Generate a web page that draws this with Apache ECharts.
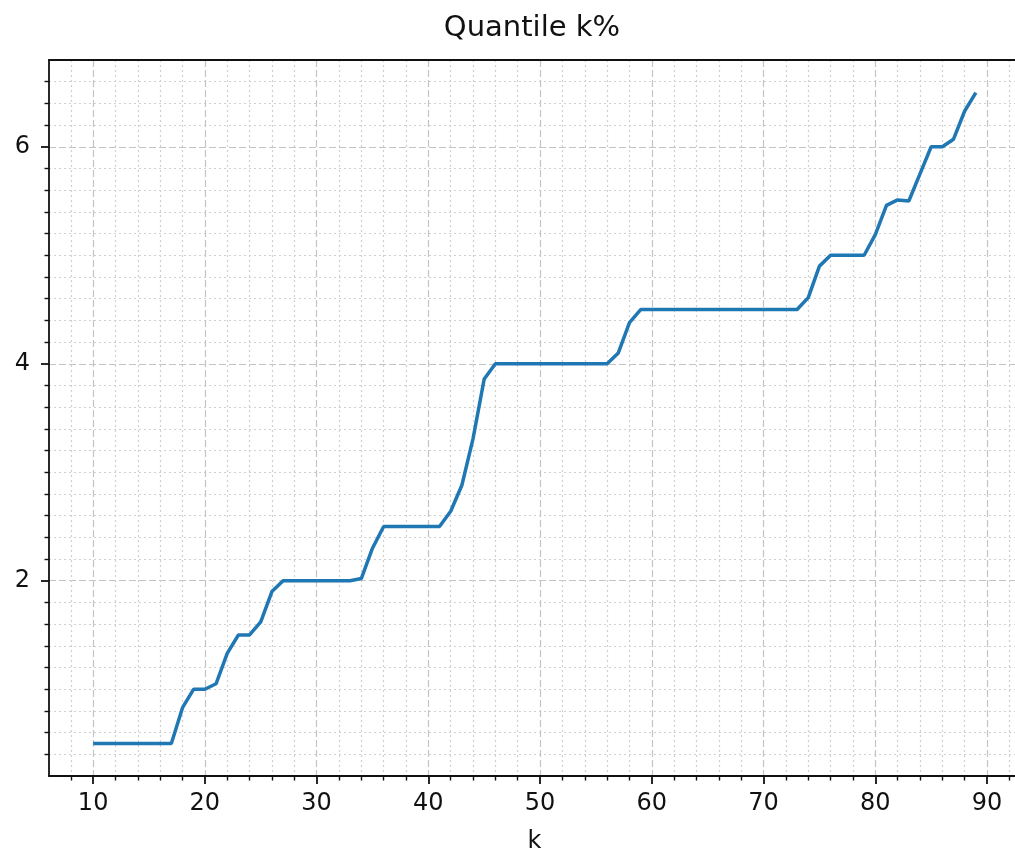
<!DOCTYPE html>
<html>
<head>
<meta charset="utf-8">
<script src="https://cdn.jsdelivr.net/npm/echarts@6/dist/echarts.min.js"></script>
<style>
  html, body { margin: 0; padding: 0; background: #fff; overflow: hidden; width: 1015px; height: 859px; }
  #main { width: 1100px; height: 859px; }
</style>
</head>
<body>
<div id="main"></div>
<script>
// k (percent) and the quantile
let kValues = [10, 11, 12, 13, 14, 15, 16, 17, 18, 19, 20, 21, 22, 23, 24, 25, 26, 27, 28, 29,
    30, 31, 32, 33, 34, 35, 36, 37, 38, 39, 40, 41, 42, 43, 44, 45, 46, 47, 48, 49,
    50, 51, 52, 53, 54, 55, 56, 57, 58, 59, 60, 61, 62, 63, 64, 65, 66, 67, 68, 69,
    70, 71, 72, 73, 74, 75, 76, 77, 78, 79, 80, 81, 82, 83, 84, 85, 86, 87, 88, 89]
let quantiles = [0.5, 0.5, 0.5, 0.5, 0.5, 0.5, 0.5, 0.5, 0.83, 1.0, 1.0, 1.05, 1.33, 1.5, 1.5, 1.62, 1.9, 2.0, 2.0, 2.0,
    2.0, 2.0, 2.0, 2.0, 2.02, 2.3, 2.5, 2.5, 2.5, 2.5, 2.5, 2.5, 2.64, 2.88, 3.31, 3.86, 4.0, 4.0, 4.0, 4.0,
    4.0, 4.0, 4.0, 4.0, 4.0, 4.0, 4.0, 4.1, 4.38, 4.5, 4.5, 4.5, 4.5, 4.5, 4.5, 4.5, 4.5, 4.5, 4.5, 4.5,
    4.5, 4.5, 4.5, 4.5, 4.61, 4.9, 5.0, 5.0, 5.0, 5.0, 5.19, 5.46, 5.51, 5.5, 5.75, 6.0, 6.0, 6.07, 6.33, 6.5]

// tick labels
let xTicks = [10, 20, 30, 40, 50, 60, 70, 80, 90]
let yTicks = [2, 4, 6]
let xMinorTicks = [8, 12, 14, 16, 18, 22, 24, 26, 28, 32, 34, 36, 38, 42, 44, 46, 48, 52, 54, 56, 58,
    62, 64, 66, 68, 72, 74, 76, 78, 82, 84, 86, 88, 92]
let yMinorTicks = [0.4, 0.6, 0.8, 1.0, 1.2, 1.4, 1.6, 1.8, 2.2, 2.4, 2.6, 2.8, 3.0, 3.2, 3.4, 3.6, 3.8,
    4.2, 4.4, 4.6, 4.8, 5.0, 5.2, 5.4, 5.6, 5.8, 6.2, 6.4, 6.6]

let xMin = 6.05, xMax = 92.95
let yMin = 0.2, yMax = 6.8

let font = 'DejaVu Sans'
let majorGrid = { color: '#c4c4c4', width: 1.2, type: [7, 3] }
let minorGrid = { color: '#d0d0d0', width: 1.2, type: [2, 3] }
let spine = { color: '#111', width: 1.8 }

var myChart = echarts.init(document.getElementById('main'))

var option = {
    animation: false,
    backgroundColor: '#fff',
    title: {
        text: 'Quantile k%',
        left: 532,
        textAlign: 'center',
        top: 14,
        padding: 0,
        textStyle: { fontFamily: font, fontSize: 29, fontWeight: 'normal', color: '#111' }
    },
    grid: { left: 49, top: 60, width: 971, height: 720, show: false },
    xAxis: [
        {
            type: 'value', min: xMin, max: xMax,
            name: 'k', nameLocation: 'middle', nameGap: 54,
            nameTextStyle: { fontFamily: font, fontSize: 24, color: '#111' },
            axisLine: { show: true, lineStyle: spine },
            axisTick: { show: true, customValues: xTicks, length: 8, lineStyle: spine },
            axisLabel: { customValues: xTicks, margin: 16, fontFamily: font, fontSize: 24, color: '#111' },
            splitLine: { show: true, lineStyle: majorGrid }
        },
        {
            type: 'value', min: xMin, max: xMax, position: 'bottom',
            axisLine: { show: false },
            axisTick: { show: true, customValues: xMinorTicks, length: 4.5, lineStyle: { color: '#111', width: 1.4 } },
            axisLabel: { show: false, customValues: xMinorTicks },
            splitLine: { show: true, lineStyle: minorGrid }
        },
        {
            // top spine
            type: 'value', min: xMin, max: xMax, position: 'top',
            axisLine: { show: true, lineStyle: spine },
            axisTick: { show: false },
            axisLabel: { show: false },
            splitLine: { show: false }
        }
    ],
    yAxis: [
        {
            type: 'value', min: yMin, max: yMax,
            axisLine: { show: true, lineStyle: spine },
            axisTick: { show: true, customValues: yTicks, length: 8, lineStyle: spine },
            axisLabel: { customValues: yTicks, margin: 19, fontFamily: font, fontSize: 24, color: '#111' },
            splitLine: { show: true, lineStyle: majorGrid }
        },
        {
            type: 'value', min: yMin, max: yMax, position: 'left',
            axisLine: { show: false },
            axisTick: { show: true, customValues: yMinorTicks, length: 4.5, lineStyle: { color: '#111', width: 1.4 } },
            axisLabel: { show: false, customValues: yMinorTicks },
            splitLine: { show: true, lineStyle: minorGrid }
        }
    ],
    series: [
        {
            type: 'line',
            xAxisIndex: 0,
            yAxisIndex: 0,
            data: kValues.map((k, i) => [k, quantiles[i]]),
            showSymbol: false,
            symbol: 'none',
            lineStyle: { color: '#1f77b4', width: 3.5 },
            z: 5
        }
    ]
}

myChart.setOption(option)
</script>
</body>
</html>
